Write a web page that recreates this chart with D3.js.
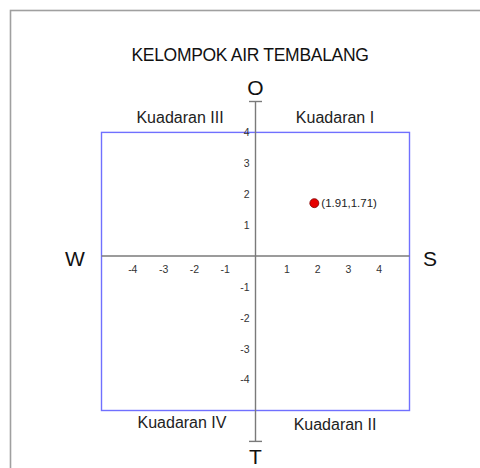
<!DOCTYPE html>
<html>
<head>
<meta charset="utf-8">
<script src="https://cdn.jsdelivr.net/npm/d3@7"></script>
<style>
  body { margin: 0; background: #fff; }
  svg { font-family: "Liberation Sans", Arial, sans-serif; }
  .tick text { fill: #333; font-size: 10.5px; }
</style>
</head>
<body>
<div id="graphic"></div>
<script>
// Données du graphique
let titre = "KELOMPOK AIR TEMBALANG";
let arahMata = ["O", "S", "T", "W"];            // haut, droite, bas, gauche
let kuadran = ["Kuadaran I", "Kuadaran II", "Kuadaran III", "Kuadaran IV"];
let ticksX = [-4, -3, -2, -1, 1, 2, 3, 4];
let ticksY = [-4, -3, -2, -1, 1, 2, 3, 4];
let titikX = [1.91];
let titikY = [1.71];

let cadre = d3.select("#graphic")
    .append("svg")
    .attr("width", 480)
    .attr("height", 468);

// cadre gris autour (déborde à droite et en bas)
cadre.append("rect")
    .attr("x", 10.5).attr("y", 10.5)
    .attr("width", 520).attr("height", 520)
    .attr("fill", "none")
    .attr("stroke", "#a0a0a0")
    .attr("stroke-width", 1.6);

// échelles
let x = d3.scaleLinear().domain([-5, 5]).range([101.5, 409.5]);
let y = d3.scaleLinear().domain([-6, 5]).range([441.4, 101.5]);

// rectangle bleu
cadre.append("rect")
    .attr("x", x(-5)).attr("y", y(4))
    .attr("width", x(5) - x(-5))
    .attr("height", y(-5) - y(4))
    .attr("fill", "none")
    .attr("stroke", "#7070ff")
    .attr("stroke-width", 1.4);

// axe horizontal
cadre.append("line")
    .attr("x1", x(-5)).attr("x2", x(5))
    .attr("y1", y(0)).attr("y2", y(0))
    .attr("stroke", "#7a7a7a").attr("stroke-width", 1.4);

// axe vertical avec petits traits aux extrémités
cadre.append("line")
    .attr("x1", x(0)).attr("x2", x(0))
    .attr("y1", y(5)).attr("y2", y(-6))
    .attr("stroke", "#7a7a7a").attr("stroke-width", 1.4);
[5, -6].forEach(function(v){
  cadre.append("line")
    .attr("x1", x(0) - 6.5).attr("x2", x(0) + 6.5)
    .attr("y1", y(v)).attr("y2", y(v))
    .attr("stroke", "#7a7a7a").attr("stroke-width", 1.4);
});

// graduations (trait d'union simple, pas le signe moins typographique)
let axeX = d3.axisBottom(x).tickValues(ticksX).tickSize(0).tickPadding(10).tickFormat(d => String(d));
cadre.append("g")
    .attr("transform", `translate(0,${y(0)})`)
    .call(axeX)
    .call(g => g.select(".domain").remove());

let axeY = d3.axisLeft(y).tickValues(ticksY).tickSize(0).tickPadding(6).tickFormat(d => String(d));
cadre.append("g")
    .attr("transform", `translate(${x(0)},0)`)
    .call(axeY)
    .call(g => g.select(".domain").remove());

// titre
cadre.append("text")
    .attr("x", 250).attr("y", 61)
    .attr("text-anchor", "middle")
    .attr("font-size", 17.5)
    .attr("letter-spacing", -0.3)
    .attr("fill", "#111")
    .text(titre);

// points cardinaux
let posArah = [[x(0), 95], [430, 266], [x(0), 464], [75, 266]];
arahMata.forEach(function(t, i){
  cadre.append("text")
    .attr("x", posArah[i][0]).attr("y", posArah[i][1])
    .attr("text-anchor", "middle")
    .attr("font-size", 21)
    .attr("fill", "#111")
    .text(t);
});

// noms des quadrants
let posKuadran = [[335, 123], [335, 430], [180, 123], [182, 428]];
kuadran.forEach(function(t, i){
  cadre.append("text")
    .attr("x", posKuadran[i][0]).attr("y", posKuadran[i][1])
    .attr("text-anchor", "middle")
    .attr("font-size", 16)
    .attr("fill", "#222")
    .text(t);
});

// point
cadre.selectAll(".titik")
  .data(titikX)
  .enter()
    .append("circle")
    .attr("class", "titik")
    .attr("cx", function(d){ return x(d); })
    .attr("cy", function(d, i){ return y(titikY[i]); })
    .attr("r", 4.5)
    .attr("fill", "#e60000")
    .attr("stroke", "#800000")
    .attr("stroke-width", 0.8);

cadre.selectAll(".label-titik")
  .data(titikX)
  .enter()
    .append("text")
    .attr("class", "label-titik")
    .attr("x", function(d){ return x(d) + 7; })
    .attr("y", function(d, i){ return y(titikY[i]) + 4; })
    .attr("font-size", 11.5)
    .attr("fill", "#222")
    .text(function(d, i){ return `(${d},${titikY[i]})`; });
</script>
</body>
</html>
